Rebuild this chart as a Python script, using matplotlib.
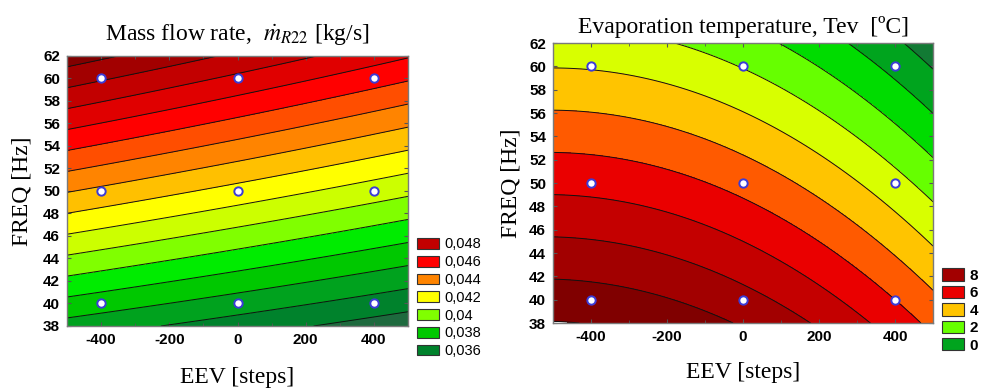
import numpy as np
import matplotlib.pyplot as plt
from matplotlib.patches import Patch

# design points (EEV opening x compressor frequency)
eev_steps = [-400, 0, 400]
freq_hz = [40, 50, 60]

# mass flow rate [kg/s]; rows = FREQ 40/50/60 Hz, cols = EEV -400/0/400
mass_flow = [[0.03846, 0.03752, 0.03659],
             [0.04378, 0.04265, 0.04152],
             [0.04911, 0.04778, 0.04644]]

# evaporation temperature [C]; same layout
t_evap = [[9.42, 8.35, 6.00],
          [6.67, 5.65, 3.35],
          [3.92, 2.95, 0.70]]

mass_legend = [0.048, 0.046, 0.044, 0.042, 0.04, 0.038, 0.036]
tev_legend = [8, 6, 4, 2, 0]

plt.rcParams['mathtext.fontset'] = 'stix'
plt.rcParams['font.family'] = 'Liberation Sans'
plt.rcParams['axes.unicode_minus'] = False

mass_levels = np.round(np.arange(0.035, 0.0515, 0.001), 3)
mass_colors = ['#1e6a3e', '#00822c', '#00a21e', '#00c800', '#00ec00', '#80ff00',
               '#ccff00', '#ffff00', '#ffc000', '#ff8400', '#ff4e00', '#ff0000',
               '#e00000', '#c20000', '#a20000', '#820000']
tev_levels = np.arange(-1, 11)
tev_colors = ['#127a34', '#00a41e', '#00dc00', '#66ff00', '#d8ff00', '#ffc400',
              '#ff5a00', '#ea0000', '#c40000', '#a20000', '#800000']


def response_surface(values, ee, ff):
    """Second order response surface fitted through the 3x3 design points."""
    E, F = np.meshgrid(eev_steps, freq_hz)
    u = E.ravel() / 400.0
    v = (F.ravel() - 50) / 10.0
    A = np.column_stack([np.ones_like(u), u, v, u * u, v * v, u * v])
    coef, *_ = np.linalg.lstsq(A, np.asarray(values, float).ravel(), rcond=None)
    uu = ee / 400.0
    vv = (ff - 50) / 10.0
    return (coef[0] + coef[1] * uu + coef[2] * vv + coef[3] * uu ** 2
            + coef[4] * vv ** 2 + coef[5] * uu * vv)


ee, ff = np.meshgrid(np.linspace(-500, 500, 301), np.linspace(38, 62, 241))

fig = plt.figure(figsize=(9.87, 3.88), dpi=100)
ax1 = fig.add_axes([0.0679, 0.1598, 0.3455, 0.696])
ax2 = fig.add_axes([0.5603, 0.1675, 0.385, 0.7216])

serif = 'Liberation Serif'


def draw_panel(ax, values, levels, colors):
    zz = response_surface(values, ee, ff)
    ax.contourf(ee, ff, zz, levels=levels, colors=colors)
    ax.contour(ee, ff, zz, levels=levels, colors='#111111', linewidths=0.7)
    E, F = np.meshgrid(eev_steps, freq_hz)
    ax.plot(E.ravel(), F.ravel(), 'o', ms=6, mfc='white', mec='#3b3bd6',
            mew=1.4, ls='none')
    ax.set_xlim(-500, 500)
    ax.set_ylim(38, 62)
    ax.set_xticks([-400, -200, 0, 200, 400])
    ax.set_xticks(np.arange(-500, 501, 100), minor=True)
    ax.set_yticks(np.arange(38, 63, 2))
    ax.tick_params(direction='in', top=True, right=True, length=3,
                   width=0.8, color='#555555', labelsize=11, pad=5)
    ax.tick_params(which='minor', direction='in', top=True, bottom=True,
                   length=2, color='#555555')
    for lab in ax.get_xticklabels() + ax.get_yticklabels():
        lab.set_fontweight('bold')
    for sp in ax.spines.values():
        sp.set_color('#7a7a7a')
        sp.set_linewidth(1.0)
    ax.set_ylabel('FREQ [Hz]', family=serif, fontsize=17)
    ax.set_xlabel('EEV [steps]', family=serif, fontsize=17)


draw_panel(ax1, mass_flow, mass_levels, mass_colors)
draw_panel(ax2, t_evap, tev_levels, tev_colors)

ax1.set_title(r'Mass flow rate,  $\dot{m}_{R22}$ [kg/s]', family=serif,
              fontsize=17, pad=11)
ax2.set_title('Evaporation temperature, Tev  [ºC]', family=serif,
              fontsize=17, pad=7)

ax1.yaxis.set_label_coords(-0.10, 0.5)
ax2.yaxis.set_label_coords(-0.082, 0.5)
ax1.xaxis.set_label_coords(0.5, -0.15)
ax2.xaxis.set_label_coords(0.5, -0.14)

# discrete legends
h1 = [Patch(facecolor=mass_colors[int(round((m - 0.035) / 0.001))],
            edgecolor='#333333', lw=0.8) for m in mass_legend]
l1 = [f'{m:g}'.replace('.', ',') for m in mass_legend]
fig.legend(h1, l1, loc='upper left', bbox_to_anchor=(0.4225, 0.388),
           frameon=False, borderpad=0, borderaxespad=0, handlelength=1.5,
           handleheight=0.75, handletextpad=0.35, labelspacing=0.26,
           fontsize=10.5)

h2 = [Patch(facecolor=tev_colors[t + 1], edgecolor='#333333', lw=0.8)
      for t in tev_legend]
l2 = [str(t) for t in tev_legend]
fig.legend(h2, l2, loc='upper left', bbox_to_anchor=(0.9544, 0.308),
           frameon=False, borderpad=0, borderaxespad=0, handlelength=1.45,
           handleheight=0.85, handletextpad=0.35, labelspacing=0.2,
           prop={'size': 11, 'weight': 'bold'})

fig.savefig('out.png', dpi=100)
